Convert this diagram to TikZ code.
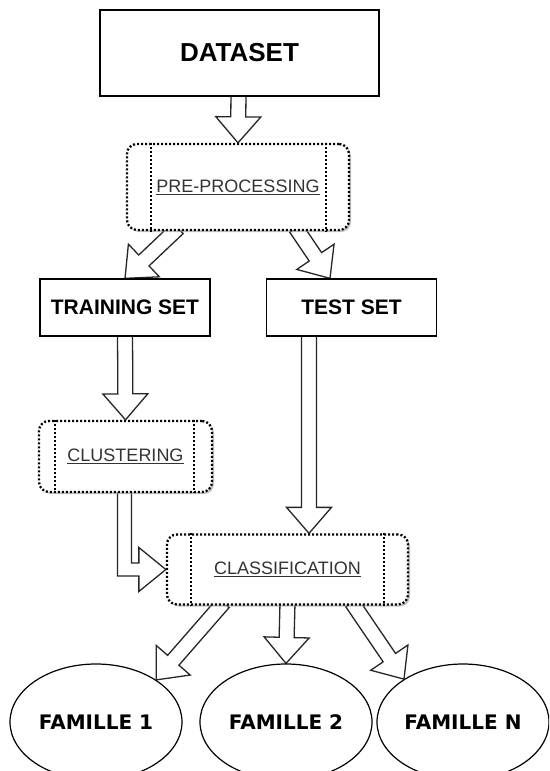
\documentclass[tikz,border=0pt]{standalone}
\usepackage{fontspec}
\setmainfont{Liberation Sans}
\newfontfamily\famfont{DejaVu Sans}
\usetikzlibrary{calc,shapes.geometric,shadows,backgrounds}

\tikzset{
 solidbox/.style={rectangle, draw=black, line width=1.3pt, fill=white, inner sep=0pt, font=\bfseries\fontsize{21}{24}\selectfont},
 procbox/.style={rectangle, draw=black, line width=2.3pt, dash pattern=on 2pt off 2pt, rounded corners=10pt, fill=white, inner sep=0pt, font=\fontsize{18}{21}\selectfont, text=black!80, drop shadow={shadow xshift=2pt, shadow yshift=-2pt, fill=black!40, opacity=0.6}},
 procline/.style={draw=black, line width=2.3pt, dash pattern=on 2pt off 2pt},
 blockarrow/.style={draw=black!85, line width=1.3pt, fill=white, line join=miter},
 famille/.style={ellipse, draw=black, line width=1.2pt, fill=white, minimum width=172pt, minimum height=116pt, inner sep=0pt, font=\famfont\bfseries\fontsize{20}{24}\selectfont},
}

\newcommand{\barrow}[2]{%
 \coordinate (ba-s) at (#1);
 \coordinate (ba-t) at (#2);
 \coordinate (ba-h) at ($(ba-t)!26pt!(ba-s)$);
 \draw[blockarrow] ($(ba-s)!7.5pt!90:(ba-t)$) -- ($(ba-h)!7.5pt!90:(ba-t)$) -- ($(ba-h)!22.5pt!90:(ba-t)$) -- (ba-t) -- ($(ba-h)!22.5pt!-90:(ba-t)$) -- ($(ba-h)!7.5pt!-90:(ba-t)$) -- ($(ba-s)!7.5pt!-90:(ba-t)$) -- cycle;}

\begin{document}
\begin{tikzpicture}[x=1pt,y=-1pt]
\useasboundingbox (0,0) rectangle (549,771);
\clip (0,0) rectangle (549,771);

% boxes
\node[solidbox, minimum width=279pt, minimum height=86pt, font=\bfseries\fontsize{26}{30}\selectfont] (dataset) at (239.5,53) {DATASET};
\node[procbox, minimum width=222pt, minimum height=86pt] (pre) at (238,187) {\underline{PRE-PROCESSING}};
\draw[procline] ($(pre.north west)+(25,0)$) -- ($(pre.south west)+(25,0)$);
\draw[procline] ($(pre.north east)+(-24,0)$) -- ($(pre.south east)+(-24,0)$);

\node[solidbox, minimum width=170pt, minimum height=57pt] (train) at (125,307.5) {TRAINING SET};
\node[solidbox, minimum width=170pt, minimum height=57pt] (test) at (351.5,307.5) {TEST SET};

\node[procbox, minimum width=173pt, minimum height=71pt] (clust) at (125.5,456.5) {\underline{CLUSTERING}};
\draw[procline] ($(clust.north west)+(17,0)$) -- ($(clust.south west)+(17,0)$);
\draw[procline] ($(clust.north east)+(-19,0)$) -- ($(clust.south east)+(-19,0)$);

\node[procbox, minimum width=241pt, minimum height=70pt] (classif) at (287.5,569.5) {\underline{CLASSIFICATION}};
\draw[procline] ($(classif.north west)+(25,0)$) -- ($(classif.south west)+(25,0)$);
\draw[procline] ($(classif.north east)+(-25,0)$) -- ($(classif.south east)+(-25,0)$);

\node[famille] (f1) at (96,722) {FAMILLE 1};
\node[famille] (f2) at (286,722) {FAMILLE 2};
\node[famille] (f3) at (463,722) {FAMILLE N};

% connectors
\begin{scope}[on background layer]
\barrow{$(dataset.south)+(-1,-3)$}{pre.north}
\barrow{$(pre.south)+(-60,-3)$}{train.north}
\barrow{$(pre.south)+(58,-3)$}{$(test.north)+(-21.5,0)$}
\barrow{$(train.south)+(0,-3)$}{clust.north}
\barrow{$(test.south)+(-42.5,-3)$}{$(classif.north)+(21.5,0)$}
\draw[blockarrow] ($(clust.south)+(-8,-3)$) -- ($(clust.south |- classif.west)+(-8,6.5)$) -- ($(classif.west)+(-27,6.5)$) -- ($(classif.west)+(-27,22)$) -- (classif.west) -- ($(classif.west)+(-27,-22)$) -- ($(classif.west)+(-27,-6.5)$) -- ($(clust.south |- classif.west)+(6,-6.5)$) -- ($(clust.south)+(6,-3)$) -- cycle;
\barrow{$(classif.south)+(-64,-3)$}{f1.35}
\barrow{$(classif.south)+(0,-3)$}{f2.north}
\barrow{$(classif.south)+(64.5,-3)$}{f3.144}
\end{scope}
\end{tikzpicture}
\end{document}
